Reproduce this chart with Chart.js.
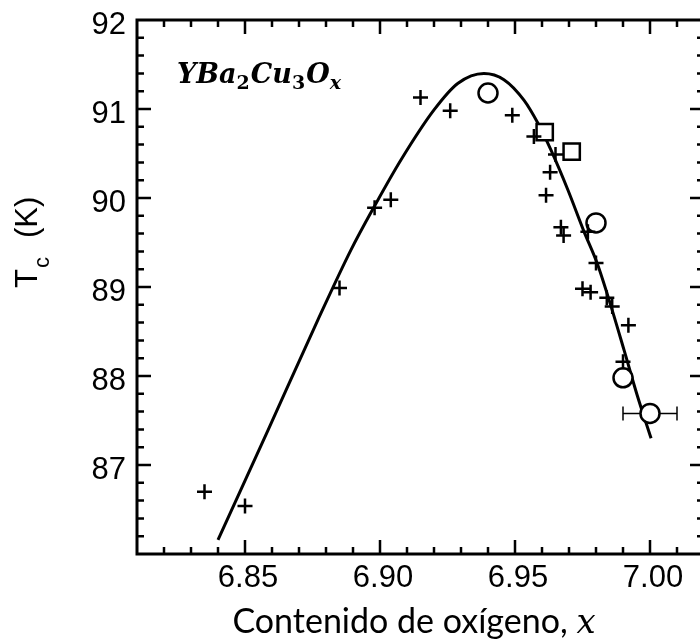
<!DOCTYPE html>
<html>
<head>
<meta charset="utf-8">
<script src="https://cdn.jsdelivr.net/npm/chart.js@4"></script>
<style>
  html, body { margin: 0; background: #fff; overflow: hidden; }
</style>
</head>
<body>
<canvas id="chart" width="718" height="644"></canvas>
<script>
// crosses
var plusX = [6.835, 6.850, 6.885, 6.898, 6.904, 6.915, 6.926, 6.949, 6.957, 6.965, 6.963, 6.9615,
             6.967, 6.968, 6.977, 6.980, 6.975, 6.978, 6.984, 6.986, 6.992, 6.990];
var plusY = [86.70, 86.54, 88.99, 89.89, 89.98, 91.13, 90.98, 90.93, 90.69, 90.49, 90.29, 90.03,
             89.67, 89.58, 89.62, 89.27, 88.98, 88.94, 88.88, 88.78, 88.57, 88.16];
// open circles (last one has an x error bar)
var circleX = [6.940, 6.980, 6.990, 7.000];
var circleY = [91.18, 89.72, 87.98, 87.58];
var circleXErr = [0, 0, 0, 0.01];
// open squares
var squareX = [6.961, 6.971];
var squareY = [90.74, 90.52];
// fitted curve
var curveX = [6.840, 6.8585, 6.877, 6.8893, 6.8978, 6.9078, 6.920, 6.9289, 6.9385, 6.9459, 6.9533,
              6.9585, 6.9633, 6.9696, 6.9756, 6.9804, 6.9856, 6.9904, 6.9952, 7.0004];
var curveY = [86.16, 87.39, 88.63, 89.42, 89.90, 90.43, 90.99, 91.29, 91.40, 91.33, 91.10,
              90.84, 90.54, 90.09, 89.62, 89.27, 88.78, 88.29, 87.79, 87.30];

var xTicks = [6.85, 6.90, 6.95, 7.00];
var yTicks = [87, 88, 89, 90, 91, 92];

function pts(xs, ys) {
    return xs.map(function (v, i) { return {x: v, y: ys[i]}; });
}

function noPad(s) {
    s.paddingTop = 0; s.paddingBottom = 0; s.paddingLeft = 0; s.paddingRight = 0;
}

var frameTicks = {
    id: 'frameTicks',
    afterDraw: function (chart) {
        var ctx = chart.ctx, a = chart.chartArea;
        var xs = chart.scales.x, ys = chart.scales.y;
        ctx.save();
        ctx.strokeStyle = '#000';
        ctx.lineWidth = 3;
        ctx.strokeRect(a.left, a.top, a.right - a.left, a.bottom - a.top);

        ctx.lineWidth = 2.5;
        ctx.beginPath();
        for (var i = 1; i < 21; i++) {
            var v = 6.81 + i * 0.01;
            var len = (i % 5 === 4) ? 14 : 7;
            var px = xs.getPixelForValue(v);
            ctx.moveTo(px, a.bottom); ctx.lineTo(px, a.bottom - len);
            ctx.moveTo(px, a.top); ctx.lineTo(px, a.top + len);
        }
        for (var j = 1; j < 30; j++) {
            var w = 86 + j * 0.2;
            var l2 = (j % 5 === 0) ? 14 : 7;
            var py = ys.getPixelForValue(w);
            ctx.moveTo(a.left, py); ctx.lineTo(a.left + l2, py);
            ctx.moveTo(a.right, py); ctx.lineTo(a.right - l2, py);
        }
        ctx.stroke();

        // x error bars on the circles
        ctx.lineWidth = 1.5;
        ctx.beginPath();
        circleX.forEach(function (cx, k) {
            if (!circleXErr[k]) return;
            var x0 = xs.getPixelForValue(cx - circleXErr[k]);
            var x1 = xs.getPixelForValue(cx + circleXErr[k]);
            var yy = ys.getPixelForValue(circleY[k]);
            ctx.moveTo(x0, yy); ctx.lineTo(xs.getPixelForValue(cx) - 10, yy);
            ctx.moveTo(xs.getPixelForValue(cx) + 10, yy); ctx.lineTo(x1, yy);
            ctx.moveTo(x0, yy - 7); ctx.lineTo(x0, yy + 7);
            ctx.moveTo(x1, yy - 7); ctx.lineTo(x1, yy + 7);
        });
        ctx.stroke();

        // compound label
        ctx.fillStyle = '#000';
        ctx.textBaseline = 'alphabetic';
        ctx.textAlign = 'left';
        var parts = [['Y', 0], ['Ba', 0], ['2', 1], ['Cu', 0], ['3', 1], ['O', 0], ['x', 2]];
        var tx = 177, ty = 83;
        parts.forEach(function (p) {
            if (p[1] === 0) ctx.font = 'bold italic 27px "DejaVu Serif"';
            else if (p[1] === 1) ctx.font = 'bold 19px "DejaVu Serif"';
            else ctx.font = 'bold italic 19px "DejaVu Serif"';
            ctx.fillText(p[0], tx, p[1] ? ty + 6 : ty);
            tx += ctx.measureText(p[0]).width + (p[1] ? 1 : 0);
        });

        // x axis title
        var t1 = 'Contenido de oxígeno, ';
        ctx.font = '34px Lato';
        var w1 = ctx.measureText(t1).width;
        ctx.font = 'italic 34px "DejaVu Serif"';
        var w2 = ctx.measureText('x').width;
        var sx = 414 - (w1 + w2) / 2;
        ctx.font = '34px Lato';
        ctx.fillText(t1, sx, 633);
        ctx.font = 'italic 34px "DejaVu Serif"';
        ctx.fillText('x', sx + w1, 633);

        // y axis title, rotated
        ctx.translate(37, 288);
        ctx.rotate(-Math.PI / 2);
        ctx.font = '31px "Liberation Sans"';
        ctx.fillText('T', 0, 0);
        var wt = ctx.measureText('T').width;
        ctx.font = '22px "Liberation Sans"';
        ctx.fillText('c', wt + 1, 12);
        var wc = ctx.measureText('c').width;
        ctx.font = '31px "Liberation Sans"';
        ctx.fillText('(K)', wt + wc + 20, 0);
        ctx.restore();
    }
};

var ctx = document.getElementById('chart').getContext('2d');
var myChart = new Chart(ctx, {
    type: 'scatter',
    data: {
        datasets: [{
            data: pts(plusX, plusY),
            pointStyle: 'cross',
            radius: 7.5,
            borderColor: '#000',
            borderWidth: 2.5,
            order: 1
        }, {
            data: pts(circleX, circleY),
            pointStyle: 'circle',
            radius: 9.5,
            backgroundColor: '#fff',
            borderColor: '#000',
            borderWidth: 2.5,
            order: 2
        }, {
            data: pts(squareX, squareY),
            pointStyle: 'rect',
            radius: 11.5,
            backgroundColor: '#fff',
            borderColor: '#000',
            borderWidth: 2.5,
            order: 3
        }, {
            type: 'line',
            data: pts(curveX, curveY),
            showLine: true,
            borderColor: '#000',
            borderWidth: 3,
            pointRadius: 0,
            fill: false,
            cubicInterpolationMode: 'monotone',
            order: 4
        }]
    },
    options: {
        responsive: false,
        animation: false,
        layout: { padding: { top: 20, right: 4, left: 0, bottom: 0 } },
        plugins: { legend: { display: false }, tooltip: { enabled: false } },
        scales: {
            x: {
                type: 'linear',
                min: 6.81,
                max: 7.02,
                grid: { display: false, drawTicks: false },
                border: { display: false },
                afterFit: function (s) { s.height = 90; noPad(s); },
                afterBuildTicks: function (s) { s.ticks = xTicks.map(function (v) { return {value: v}; }); },
                ticks: {
                    padding: 6,
                    labelOffset: 3,
                    color: '#000',
                    font: { family: '"Liberation Sans"', size: 31 },
                    callback: function (v) { return v.toFixed(2); }
                }
            },
            y: {
                min: 86,
                max: 92,
                grid: { display: false, drawTicks: false },
                border: { display: false },
                afterFit: function (s) { s.width = 137; noPad(s); },
                afterBuildTicks: function (s) { s.ticks = yTicks.map(function (v) { return {value: v}; }); },
                ticks: {
                    padding: 11,
                    labelOffset: 5,
                    color: '#000',
                    font: { family: '"Liberation Sans"', size: 31 },
                    callback: function (v) { return String(v); }
                }
            }
        }
    },
    plugins: [frameTicks]
});
</script>
</body>
</html>
